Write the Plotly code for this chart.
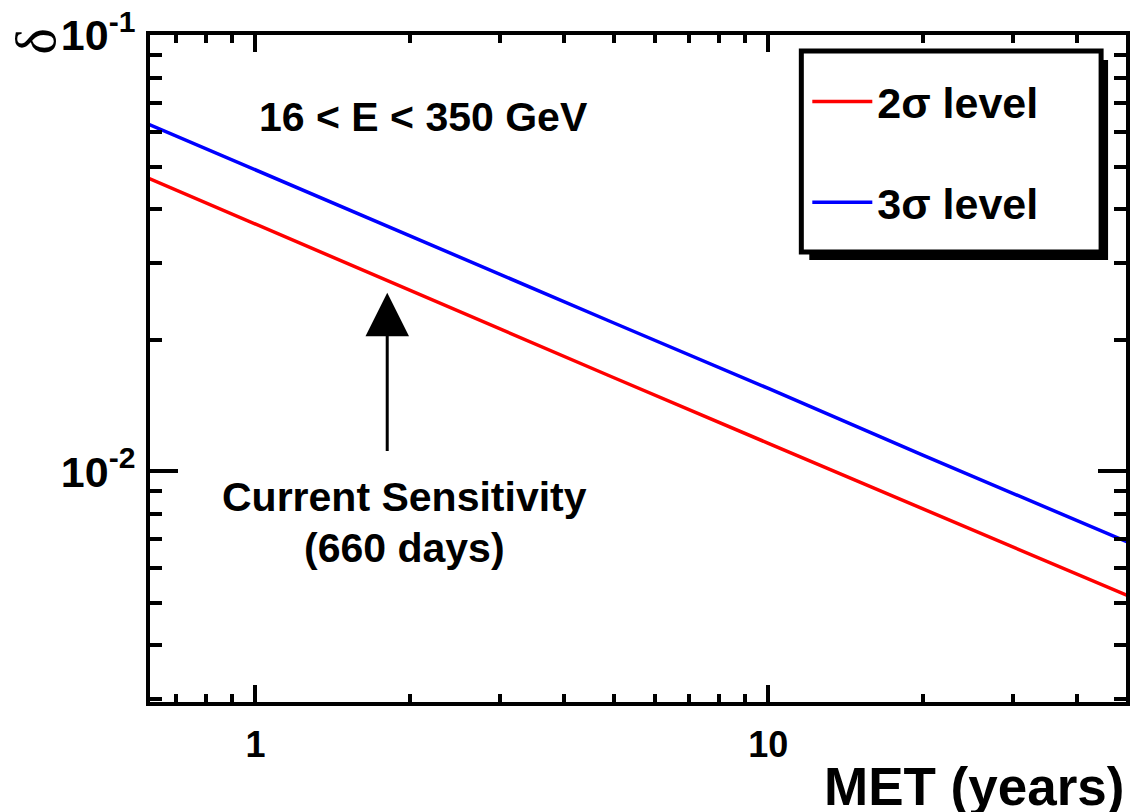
import math
import plotly.graph_objects as go

# ---- data ----
years = [0.62, 1, 2, 5, 10, 20, 50]
delta_2sigma = [0.0470, 0.0369, 0.0261, 0.0164, 0.0116, 0.0082, 0.0052]
delta_3sigma = [0.0625, 0.0491, 0.0347, 0.0219, 0.0155, 0.0109, 0.0069]
series_names = ["2σ level", "3σ level"]
series_colors = ["#ff0000", "#0000ff"]
x_tickvals = [1, 10]
x_ticktext = ["1", "10"]
y_tickvals = [0.01, 0.1]
y_ticktext = ["10<sup>-2</sup>", "10<sup>-1</sup>"]
x_range = [0.623, 49.8]
y_range = [0.00296, 0.1002]
current_years = 660 / 365.25
arrow_tip = 0.0257
arrow_tail = 0.01105

W, H = 1133, 812
ML, MR, MT, MB = 150, 3, 35, 110
PW, PH = W - ML - MR, H - MT - MB


def px(X):
    return (X - ML) / PW


def py(Y):
    return (H - MB - Y) / PH


FONT = "Liberation Sans, Arial, Helvetica, sans-serif"

fig = go.Figure()
for name, vals, col, grp in zip(series_names, [delta_2sigma, delta_3sigma], series_colors, ["a", "b"]):
    fig.add_trace(go.Scatter(x=years, y=vals, mode="lines", name=name,
                             line=dict(color=col, width=3.5), legendgroup=grp))

axis_common = dict(
    type="log", showline=True, linecolor="black", linewidth=4, mirror="ticks",
    ticks="inside", tickcolor="black", tickwidth=4, showgrid=False, zeroline=False,
    ticklabeloverflow="allow",
)

fig.update_xaxes(**axis_common, range=[math.log10(x_range[0]), math.log10(x_range[1])],
                 tickvals=x_tickvals, ticktext=x_ticktext, ticklen=17, ticklabelstandoff=8,
                 tickfont=dict(family=FONT, size=36, color="black", weight="bold"),
                 minor=dict(ticks="inside", ticklen=8, tickwidth=4, tickcolor="black", dtick="D1", showgrid=False))
fig.update_yaxes(**axis_common, range=[math.log10(y_range[0]), math.log10(y_range[1])],
                 tickvals=y_tickvals, ticktext=y_ticktext, ticklen=28, ticklabelstandoff=2,
                 tickfont=dict(family=FONT, size=43, color="black", weight="bold"),
                 minor=dict(ticks="inside", ticklen=12, tickwidth=4, tickcolor="black", dtick="D1", showgrid=False))

# legend frame with shadow
fig.add_shape(type="rect", xref="paper", yref="paper", layer="below",
              x0=px(812), x1=px(1112), y0=py(260), y1=py(60),
              fillcolor="black", line=dict(width=0))
fig.add_shape(type="rect", xref="paper", yref="paper", layer="below",
              x0=px(804), x1=px(1105), y0=py(252), y1=py(51),
              fillcolor="white", line=dict(color="black", width=5))

anns = [
    dict(text="16 < E < 350 GeV", x=px(257), y=py(117), xanchor="left", yanchor="middle", size=41),
    dict(text="Current Sensitivity", x=px(406), y=py(497), xanchor="center", yanchor="middle", size=41),
    dict(text="(660 days)", x=px(406), y=py(548), xanchor="center", yanchor="middle", size=41),
    dict(text="MET (years)", x=1.0, y=py(786), xanchor="right", yanchor="middle", size=53),
]
for a in anns:
    fig.add_annotation(xref="paper", yref="paper", x=a["x"], y=a["y"], text=a["text"],
                       xanchor=a["xanchor"], yanchor=a["yanchor"], showarrow=False,
                       font=dict(family=FONT, size=a["size"], color="black", weight="bold"))

fig.add_annotation(xref="paper", yref="paper", x=px(36), y=py(41), text="δ", textangle=-90,
                   showarrow=False, xanchor="center", yanchor="middle",
                   font=dict(family="Liberation Serif, serif", size=56, color="black"))

# arrow
fig.add_annotation(x=math.log10(current_years), y=math.log10(arrow_tip),
                   ax=math.log10(current_years), ay=math.log10(arrow_tail),
                   xref="x", yref="y", axref="x", ayref="y", text="",
                   showarrow=True, arrowhead=2, arrowsize=2.9, arrowwidth=3, arrowcolor="black")

fig.update_layout(
    width=W, height=H, margin=dict(l=ML, r=MR, t=MT, b=MB),
    paper_bgcolor="white", plot_bgcolor="white",
    legend=dict(x=px(810), y=py(67), xanchor="left", yanchor="top", itemwidth=60,
                bgcolor="rgba(0,0,0,0)", borderwidth=0, tracegroupgap=42,
                font=dict(family=FONT, size=43, color="black", weight="bold")),
    showlegend=True,
)

fig.write_html("out.html", config={"displayModeBar": False},
               post_script="document.body.style.margin='0px';document.body.style.overflow='hidden';")
